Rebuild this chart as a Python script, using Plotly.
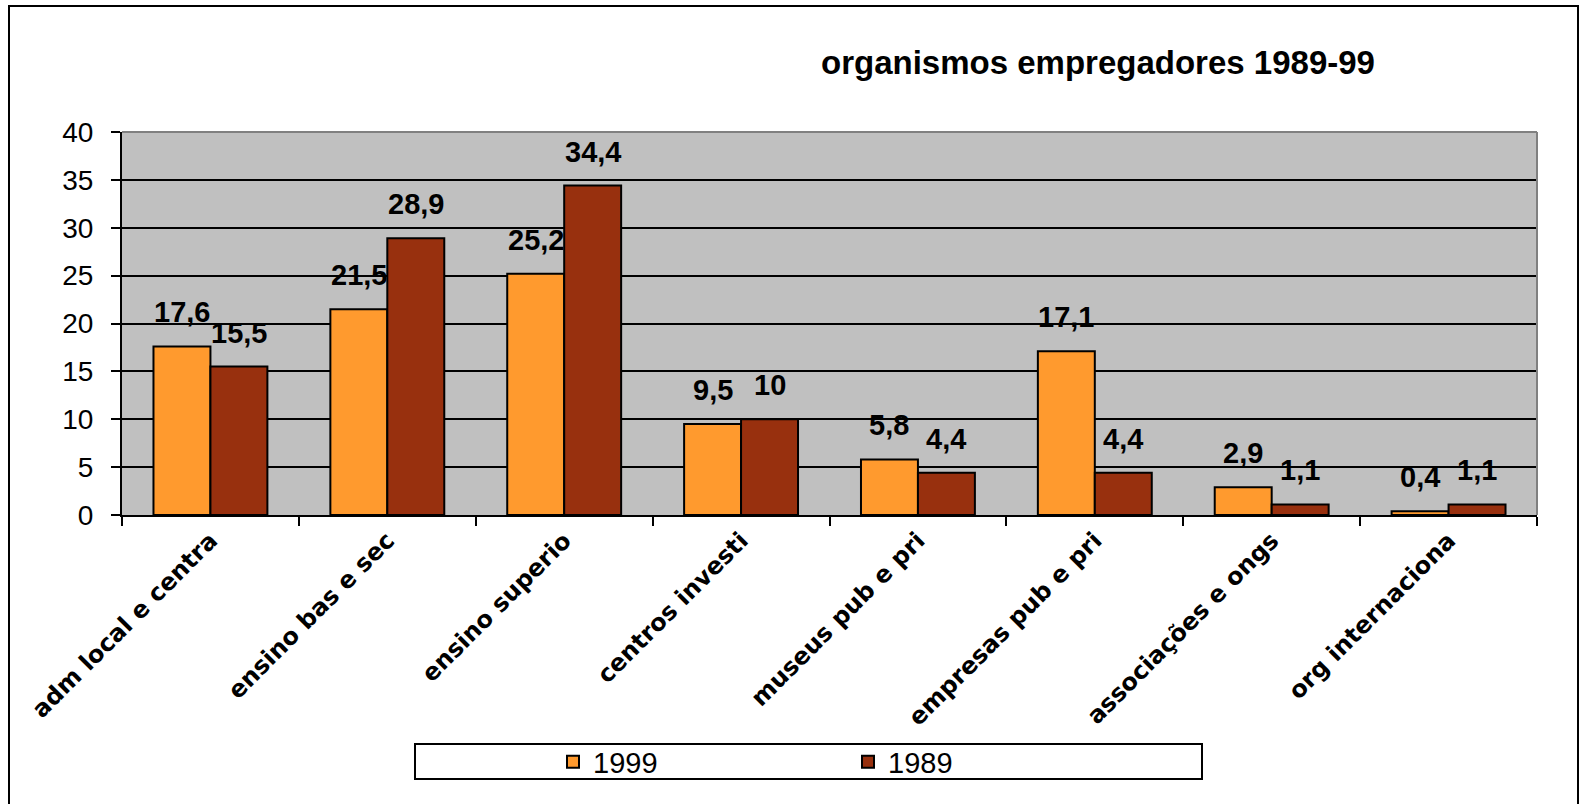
import plotly.graph_objects as go

categories = ["adm local e centra", "ensino bas e sec", "ensino superio", "centros investi",
              "museus pub e pri", "empresas pub e pri", "associações e ongs", "org internaciona"]
v1999 = [17.6, 21.5, 25.2, 9.5, 5.8, 17.1, 2.9, 0.4]
v1989 = [15.5, 28.9, 34.4, 10, 4.4, 4.4, 1.1, 1.1]
series_names = ["1999", "1989"]
y_ticks = [0, 5, 10, 15, 20, 25, 30, 35, 40]

ORANGE = "#FF9A2E"
RED = "#98300E"

def fmt(v):
    s = ("%g" % v)
    return s.replace(".", ",")

fig = go.Figure()
fig.add_trace(go.Bar(name=series_names[0], x=categories, y=v1999, marker=dict(color=ORANGE, line=dict(color="black", width=2))))
fig.add_trace(go.Bar(name=series_names[1], x=categories, y=v1989, marker=dict(color=RED, line=dict(color="black", width=2))))

W, H = 1580, 804
L, R, T, B = 122, 43, 132, 289
pw, ph = W - L - R, H - T - B

def px(x):
    return (x - L) / pw

def py(y):
    return (H - B - y) / ph

annotations = []
for cat, a, b in zip(categories, v1999, v1989):
    for val, sh in ((a, -28.5), (b, 28.5)):
        annotations.append(dict(x=cat, y=val, text=fmt(val), showarrow=False, xshift=sh,
                                yanchor="bottom", yshift=16,
                                font=dict(family="Liberation Sans, Arial", size=29, color="black", weight="bold")))

shapes = [
    # outer chart border
    dict(type="rect", xref="paper", yref="paper", x0=px(9), x1=px(1578), y0=py(815), y1=py(6),
         line=dict(color="black", width=2), layer="below"),
    # plot area top/right border
    dict(type="line", xref="paper", yref="paper", x0=0, x1=1, y0=1, y1=1, line=dict(color="#808080", width=2)),
    dict(type="line", xref="paper", yref="paper", x0=1, x1=1, y0=0, y1=1, line=dict(color="#808080", width=2)),
    # legend box
    dict(type="rect", xref="paper", yref="paper", x0=px(415), x1=px(1202), y0=py(779), y1=py(744),
         line=dict(color="black", width=2), fillcolor="white", layer="below"),
]

fig.update_layout(
    width=W, height=H,
    margin=dict(l=L, r=R, t=T, b=B, autoexpand=False),
    paper_bgcolor="white", plot_bgcolor="#C0C0C0",
    barmode="group", bargap=0.356, bargroupgap=0,
    title=dict(text="organismos empregadores 1989-99", x=1098 / W, xanchor="center", y=1 - 62 / H, yanchor="middle",
               xref="container", yref="container",
               font=dict(family="Liberation Sans, Arial", size=33, color="black", weight="bold")),
    xaxis=dict(showgrid=False, showline=True, linecolor="black", linewidth=2, ticks="outside", tickson="boundaries",
               ticklen=9, tickwidth=2, tickcolor="black", tickangle=-45, automargin=False,
               tickfont=dict(family="DejaVu Sans", size=24, color="black", weight="bold"), range=[-0.5, 7.5]),
    yaxis=dict(range=[0, 40], tickvals=y_ticks, showgrid=True, gridcolor="black", gridwidth=2, showline=True,
               linecolor="black", linewidth=2, ticks="outside", ticklen=9, tickwidth=2, tickcolor="black",
               ticklabelstandoff=12, automargin=False,
               tickfont=dict(family="Liberation Sans, Arial", size=28, color="black"), zeroline=False),
    showlegend=True,
    legend=dict(orientation="h", x=px(553), xanchor="left", y=py(762), yanchor="middle", bgcolor="rgba(0,0,0,0)",
                entrywidth=250, entrywidthmode="pixels",
                font=dict(family="Liberation Sans, Arial", size=29, color="black")),
    annotations=annotations,
    shapes=shapes,
)

fig.write_html("out.html", config={"displayModeBar": False},
               post_script="document.body.style.margin='0';document.body.style.overflow='hidden';")
